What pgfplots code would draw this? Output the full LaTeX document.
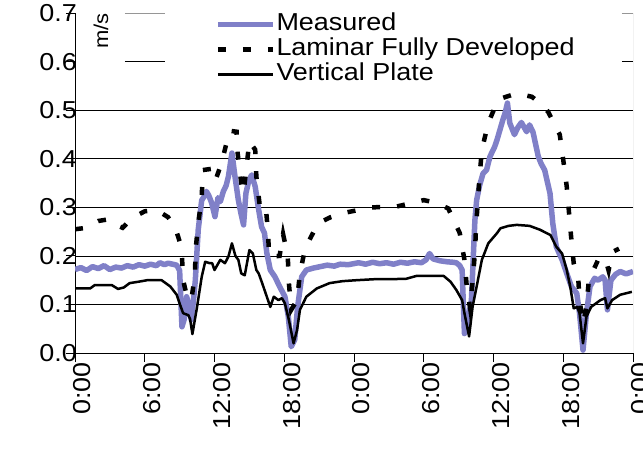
\documentclass[border=0pt]{standalone}
\usepackage{pgfplots}
\pgfplotsset{compat=1.18}
\usepackage{fontspec}
\setmainfont{Liberation Sans}[FakeStretch=1.1]
\newcommand\chartfont{\fontsize{24.5bp}{29bp}\selectfont}
\definecolor{meas}{RGB}{128,128,200}
\definecolor{frame}{RGB}{150,150,150}
\begin{document}
\begin{tikzpicture}
\useasboundingbox (0,0) rectangle (643bp,450bp);
\begin{axis}[
  at={(75bp,97bp)}, anchor=south west,
  scale only axis, width=558bp, height=339.7bp,
  xmin=0, xmax=48, ymin=0, ymax=0.7,
  axis lines*=left,
  axis line style={-, black, line width=1bp},
  tick align=outside,
  major tick length=9bp,
  tick style={black, line width=1bp},
  xtick={0,6,12,18,24,30,36,42,48},
  xticklabels={0:00,6:00,12:00,18:00,0:00,6:00,12:00,18:00,0:00},
  ytick={0,0.1,0.2,0.3,0.4,0.5,0.6},
  yticklabels={0.0,0.1,0.2,0.3,0.4,0.5,0.6},
  extra y ticks={0.7}, extra y tick labels={0.7},
  extra y tick style={grid=none},
  ymajorgrids,
  grid style={black, line width=0.8bp},
  tick label style={font=\chartfont},
  xticklabel style={rotate=90, anchor=east, inner sep=0pt, yshift=-7bp, text height=17.6bp, text depth=0pt},
  yticklabel style={anchor=east, inner sep=0pt, xshift=11bp},
  /pgf/number format/assume math mode=true,
  legend style={at={(0.2509,1.0027)}, anchor=north west, draw=none, fill=none,
    inner sep=0pt, outer sep=0pt, font=\chartfont, column sep=1bp, row sep=0.5bp,
    nodes={inner sep=0pt, text height=18.4bp, text depth=6.1bp}},
  legend cell align=left,
  legend image code/.code={\draw[#1] (0bp,0bp) -- (55bp,0bp);},
]
\addplot[meas, line width=5.5bp, line join=round] coordinates {
(0,0.172) (0.5,0.176) (1,0.170) (1.5,0.178) (2,0.174) (2.5,0.180) (3,0.172) (3.5,0.177)
(4,0.175) (4.5,0.180) (5,0.177) (5.5,0.182) (6,0.179) (6.5,0.183) (7,0.180) (7.3,0.186)
(7.7,0.182) (8,0.185) (8.4,0.183) (8.75,0.181) (9.0,0.170) (9.2,0.054) (9.4,0.070)
(9.6,0.116) (9.8,0.100) (10.0,0.068) (10.2,0.110) (10.35,0.150) (10.6,0.254) (10.9,0.315)
(11.1,0.322) (11.3,0.333) (11.5,0.325) (11.76,0.309) (12.04,0.281) (12.3,0.320) (12.5,0.312)
(12.76,0.333) (13.0,0.345) (13.2,0.364) (13.5,0.412) (13.76,0.364) (14.05,0.315) (14.3,0.285)
(14.5,0.264) (14.7,0.329) (14.95,0.355) (15.2,0.367) (15.5,0.343) (15.8,0.295) (16.05,0.260)
(16.3,0.247) (16.5,0.206) (16.8,0.171) (17.2,0.157) (17.6,0.137) (18.06,0.116) (18.35,0.075)
(18.6,0.013) (18.9,0.027) (19.15,0.095) (19.5,0.157) (19.9,0.171) (20.5,0.175) (21.1,0.178)
(21.7,0.181) (22.3,0.179) (22.8,0.183) (23.5,0.182) (24.4,0.186) (25,0.183) (25.6,0.187)
(26.2,0.184) (26.8,0.186) (27.4,0.183) (28,0.187) (28.6,0.185) (29.2,0.188) (29.8,0.186)
(30.2,0.192) (30.5,0.205) (30.8,0.194) (31.4,0.190) (32,0.188) (32.5,0.187) (32.8,0.186)
(33.1,0.180) (33.3,0.171) (33.5,0.040) (33.8,0.068) (34.1,0.109) (34.4,0.274) (34.55,0.315)
(34.8,0.345) (35.1,0.370) (35.4,0.377) (35.7,0.405) (36.1,0.425) (36.3,0.439) (36.8,0.480)
(37.0,0.495) (37.2,0.515) (37.4,0.474) (37.8,0.450) (38.1,0.465) (38.4,0.475) (38.85,0.456)
(39.1,0.470) (39.4,0.455) (39.85,0.405) (40.1,0.390) (40.4,0.377) (40.86,0.329) (41.1,0.267)
(41.4,0.219) (41.9,0.192) (42.3,0.164) (42.7,0.137) (43.16,0.123) (43.4,0.082) (43.7,0.006)
(44.0,0.082) (44.3,0.137) (44.7,0.154) (45.0,0.150) (45.4,0.157) (45.6,0.150) (45.8,0.089)
(46.1,0.150) (46.5,0.162) (46.9,0.168) (47.4,0.163) (48,0.168)
};
\addlegendentry{Measured}
\addplot[black, line width=4.5bp, line cap=butt, dash pattern=on 8bp off 17bp] coordinates {
(0,0.255) (1,0.258) (2,0.272) (3,0.276) (3.7,0.262) (4.1,0.258) (4.9,0.278) (6.0,0.292)
(7.0,0.295) (8.0,0.280) (8.6,0.260) (9.0,0.230) (9.2,0.200) (9.3,0.150) (9.6,0.120)
(10.0,0.109) (10.3,0.157) (10.4,0.219) (10.6,0.267) (10.9,0.322) (11.0,0.377) (11.9,0.380)
(12.1,0.357) (12.6,0.391) (13.3,0.458) (13.9,0.456) (14.0,0.410) (14.3,0.350) (14.5,0.330)
(15.0,0.436) (15.5,0.419) (15.6,0.364) (15.9,0.302) (16.4,0.304) (16.6,0.250) (16.7,0.199)
(17.6,0.200) (17.9,0.245) (18.3,0.200) (18.4,0.144) (18.6,0.089) (19.1,0.109) (19.35,0.164)
(19.8,0.216) (20.9,0.267) (22,0.280) (23.2,0.289) (25.5,0.300) (27.7,0.302) (30.0,0.315)
(31.0,0.310) (32.1,0.298) (33.1,0.247) (33.5,0.192) (33.7,0.137) (34.0,0.091) (34.2,0.150)
(34.4,0.205) (34.5,0.260) (34.8,0.364) (35.0,0.419) (35.55,0.474) (36.4,0.522) (36.7,0.525)
(38.0,0.535) (39.3,0.528) (40.0,0.515) (40.7,0.497) (41.7,0.450) (42.0,0.398) (42.3,0.343)
(42.5,0.288) (42.7,0.233) (42.9,0.185) (43.3,0.150) (43.4,0.109) (43.7,0.061) (44.0,0.095)
(44.2,0.150) (45.0,0.192) (45.6,0.196) (45.9,0.170) (46.1,0.195) (46.3,0.209) (46.8,0.215)
};
\addlegendentry{Laminar Fully Developed}
\addplot[black, line width=2.5bp, line join=round] coordinates {
(0,0.133) (1.3,0.133) (1.7,0.140) (3.16,0.140) (3.7,0.132) (4.2,0.135) (4.7,0.144) (5.5,0.147)
(6.2,0.150) (7.45,0.150) (8.2,0.137) (8.75,0.120) (9.0,0.102) (9.3,0.082) (9.75,0.078)
(9.9,0.070) (10.1,0.039) (10.5,0.095) (10.9,0.157) (11.2,0.188) (11.6,0.185) (11.8,0.185)
(12.0,0.171) (12.5,0.192) (12.9,0.185) (13.2,0.199) (13.5,0.226) (13.8,0.200) (14.05,0.192)
(14.3,0.164) (14.6,0.160) (15.0,0.212) (15.3,0.205) (15.6,0.171) (15.8,0.164) (16.1,0.144)
(16.4,0.123) (16.8,0.095) (17.1,0.116) (17.5,0.109) (17.8,0.113) (18.06,0.102) (18.4,0.068)
(18.8,0.020) (19.1,0.047) (19.35,0.089) (19.9,0.116) (20.8,0.133) (21.9,0.144) (23,0.148)
(24.2,0.150) (25.7,0.152) (27,0.152) (28.5,0.153) (29.4,0.159) (31.7,0.159) (32.3,0.147)
(32.8,0.130) (33.3,0.109) (33.5,0.082) (33.9,0.034) (34.2,0.095) (34.55,0.137) (35.0,0.192)
(35.55,0.226) (36.3,0.247) (36.6,0.257) (37.3,0.262) (38.0,0.264) (39.1,0.262) (40.0,0.254)
(40.9,0.243) (41.4,0.219) (41.9,0.205) (42.3,0.171) (42.6,0.137) (42.9,0.092) (43.2,0.095)
(43.4,0.082) (43.7,0.020) (44.0,0.075) (44.4,0.095) (45.2,0.109) (45.6,0.113) (45.8,0.092)
(46.2,0.109) (46.9,0.120) (47.9,0.126)
};
\addlegendentry{Vertical Plate}
\fill[white] (axis cs:7.74,0.553) rectangle (axis cs:47.05,0.71);
\fill[white] (axis cs:0.12,0.595) rectangle (axis cs:4.3,0.71);
\draw[frame, line width=1bp] (axis cs:4.3,0.7) -- (axis cs:7.74,0.7);
\draw[frame, line width=1bp] (axis cs:47.05,0.7) -- (axis cs:48,0.7) -- (axis cs:48,0);
\draw[black, line width=0.8bp] (axis cs:4.3,0.6) -- (axis cs:7.74,0.6);
\draw[black, line width=0.8bp] (axis cs:47.05,0.6) -- (axis cs:48,0.6);
\node[rotate=90, font=\fontsize{20bp}{24bp}\selectfont, inner sep=0pt] at (axis cs:2.24,0.664) {m/s};
\end{axis}
\end{tikzpicture}
\end{document}
